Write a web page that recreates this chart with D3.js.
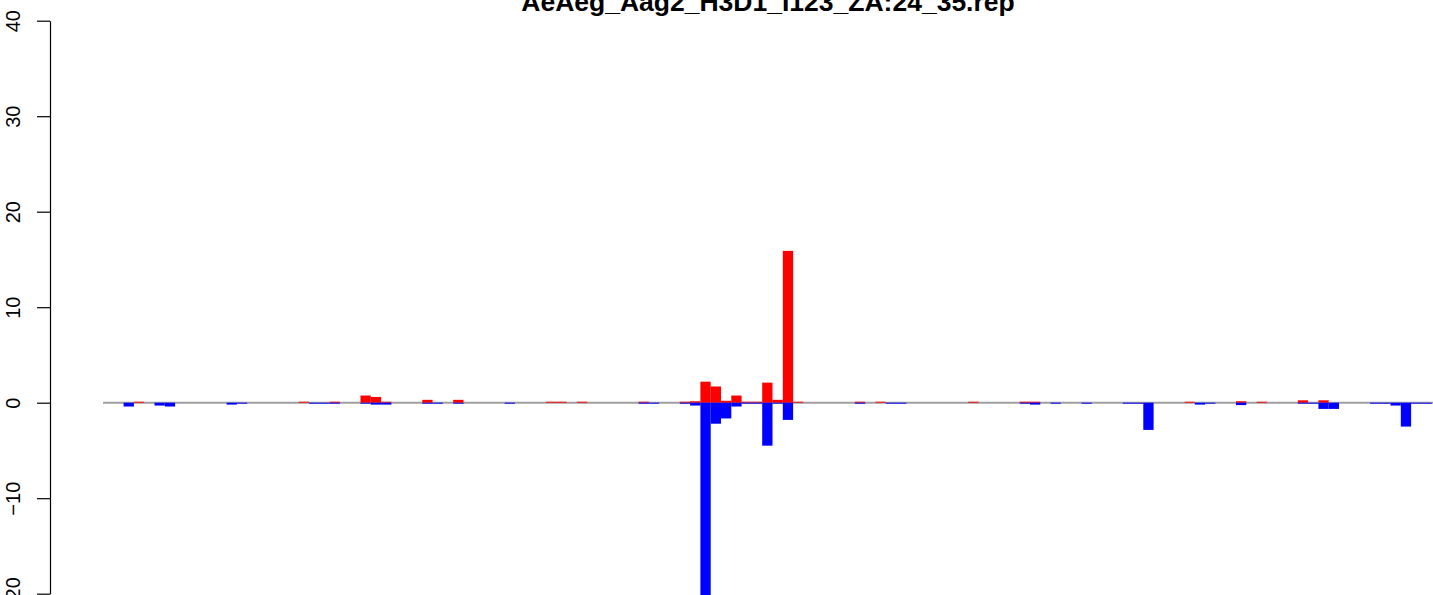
<!DOCTYPE html>
<html>
<head>
<meta charset="utf-8">
<script src="https://cdn.jsdelivr.net/npm/d3@7"></script>
<style>
  body { margin: 0; background: #fff; }
  svg { display: block; font-family: "Liberation Sans", Arial, Helvetica, sans-serif; }
</style>
</head>
<body>
<div id="main"></div>
<script>
const title = "AeAeg_Aag2_H3D1_I123_ZA:24_35.rep";

// one slot per position, red = positive (sense), blue = negative (antisense)
const redValues = [
  0, 0, 0, 0.1, 0, 0, 0, 0, 0, 0,
  0, 0, 0, 0, 0, 0, 0, 0, 0, 0.1,
  0, 0, 0.1, 0, 0, 0.75, 0.6, 0.1, 0, 0,
  0, 0.3, 0, 0, 0.3, 0, 0, 0, 0, 0,
  0, 0, 0, 0.1, 0.1, 0, 0.1, 0, 0, 0,
  0, 0, 0.1, 0, 0, 0, 0.1, 0.15, 2.2, 1.7,
  0.2, 0.75, 0.1, 0.1, 2.1, 0.3, 15.9, 0.1, 0, 0,
  0, 0, 0, 0.1, 0, 0.1, 0, 0, 0, 0,
  0, 0, 0, 0, 0.1, 0, 0, 0, 0, 0.1,
  0.1, 0, 0, 0, 0, 0, 0, 0, 0, 0,
  0, 0, 0, 0, 0, 0.1, 0, 0, 0, 0,
  0.15, 0, 0.1, 0, 0, 0, 0.25, 0, 0.25, 0,
  0, 0, 0, 0, 0, 0, 0, 0, 0
];

const blueValues = [
  0, 0, -0.4, 0, 0, -0.3, -0.4, 0, 0, 0,
  0, 0, -0.2, -0.1, 0, 0, 0, 0, 0, 0,
  -0.1, -0.1, -0.1, 0, 0, -0.1, -0.2, -0.2, 0, 0,
  0, -0.1, -0.1, 0, -0.1, 0, 0, 0, 0, -0.1,
  0, 0, 0, 0, 0, 0, 0, 0, 0, 0,
  0, 0, -0.1, -0.1, 0, 0, -0.1, -0.3, -21, -2.2,
  -1.65, -0.4, -0.1, -0.1, -4.5, -0.1, -1.8, 0, 0, 0,
  0, 0, 0, -0.1, 0, 0, -0.1, -0.1, 0, 0,
  0, 0, 0, 0, 0, 0, 0, 0, 0, -0.1,
  -0.2, 0, -0.1, 0, 0, -0.1, 0, 0, 0, -0.1,
  -0.1, -2.85, 0, 0, 0, 0, -0.2, -0.1, 0, 0,
  -0.25, 0, 0, 0, 0, 0, -0.1, -0.1, -0.65, -0.65,
  0, 0, 0, -0.1, -0.1, -0.3, -2.5, -0.1, -0.1
];

const yTicks = [-20, -10, 0, 10, 20, 30, 40];

const width = 1433, height = 595;
const config = { axisX: 50, barLeft: 103, slot: 10.3, yTop: 20.7, yBottom: 593.7 };

const svg = d3.select("#main").append("svg")
  .attr("width", width)
  .attr("height", height);

const slots = d3.range(redValues.length);

const xScale = d3.scaleBand()
  .domain(slots)
  .range([config.barLeft, config.barLeft + slots.length * config.slot])
  .padding(0);

const yScale = d3.scaleLinear()
  .domain([-20, 40])
  .range([config.yBottom, config.yTop]);

// zero line
svg.append("line")
  .attr("x1", config.barLeft)
  .attr("x2", width)
  .attr("y1", yScale(0))
  .attr("y2", yScale(0))
  .attr("stroke", "#9f9f9f")
  .attr("stroke-width", 2);

// red bars
svg.append("g").selectAll("rect")
  .data(slots.filter(i => redValues[i] > 0))
  .enter()
  .append("rect")
    .attr("x", i => xScale(i))
    .attr("width", xScale.bandwidth())
    .attr("y", i => yScale(redValues[i]))
    .attr("height", i => yScale(0) - yScale(redValues[i]))
    .attr("fill", "#ff0000");

// blue bars
svg.append("g").selectAll("rect")
  .data(slots.filter(i => blueValues[i] < 0))
  .enter()
  .append("rect")
    .attr("x", i => xScale(i))
    .attr("width", xScale.bandwidth())
    .attr("y", yScale(0))
    .attr("height", i => yScale(blueValues[i]) - yScale(0))
    .attr("fill", "#0000ff");

// y axis, R style with rotated labels
const yAxis = svg.append("g")
  .attr("transform", `translate(${config.axisX},0)`)
  .call(d3.axisLeft(yScale)
    .tickValues(yTicks)
    .tickSize(13)
    .tickSizeOuter(0));

yAxis.select(".domain").attr("stroke", "#000").attr("stroke-width", 1.2);
yAxis.selectAll(".tick line").attr("stroke", "#000").attr("stroke-width", 1.2);
yAxis.selectAll(".tick text")
  .attr("transform", "rotate(-90)")
  .attr("x", 0)
  .attr("y", -30)
  .attr("dy", 0)
  .attr("text-anchor", "middle")
  .attr("fill", "#000")
  .style("font-size", "20px");

// title, cut off at the top like the source
svg.append("text")
  .attr("x", 768)
  .attr("y", 11)
  .attr("text-anchor", "middle")
  .style("font-size", "26.5px")
  .style("font-weight", "bold")
  .text(title);
</script>
</body>
</html>
